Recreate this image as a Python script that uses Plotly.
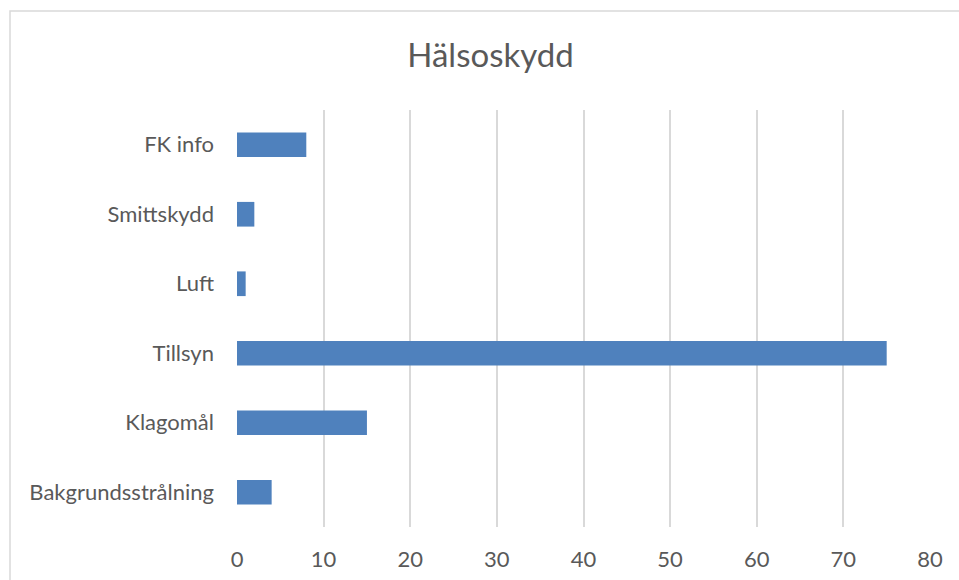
import plotly.graph_objects as go

categories = ["Bakgrundsstrålning", "Klagomål", "Tillsyn", "Luft", "Smittskydd", "FK info"]
values = [4, 15, 75, 1, 2, 8]
x_ticks = [0, 10, 20, 30, 40, 50, 60, 70, 80]

W, H = 959, 580
L, R, T, B = 237, 29, 110, 53
pw, ph = W - L - R, H - T - B

fig = go.Figure(go.Bar(
    x=values, y=categories, orientation="h",
    marker=dict(color="#4F81BD", line=dict(width=0)),
))

fig.update_layout(
    width=W, height=H,
    margin=dict(l=L, r=R, t=T, b=B, autoexpand=False),
    paper_bgcolor="white", plot_bgcolor="white",
    bargap=0.645,
    showlegend=False,
    font=dict(family="Lato, Open Sans, sans-serif", color="#595959"),
    title=dict(text="Hälsoskydd", x=490.5 / W, xanchor="center",
               y=1 - 55 / H, yanchor="middle", xref="container", yref="container",
               font=dict(size=33, color="#595959")),
    xaxis=dict(range=[0, 80], tickvals=x_ticks, showgrid=True, gridcolor="#D9D9D9",
               gridwidth=2, zeroline=False, showline=False, ticks="",
               tickfont=dict(size=22, color="#595959"), ticklabelstandoff=17,
               fixedrange=True),
    yaxis=dict(categoryorder="array", categoryarray=categories, showgrid=False,
               zeroline=False, showline=False, ticks="",
               tickfont=dict(size=22, color="#595959"), ticklabelstandoff=22,
               fixedrange=True),
    shapes=[dict(type="rect", xref="paper", yref="paper",
                 x0=(10 - L) / pw, x1=(W + 20 - L) / pw,
                 y0=-(H + 20 - (T + ph)) / ph, y1=((T + ph) - 11) / ph,
                 line=dict(color="#D9D9D9", width=1.5), fillcolor="rgba(0,0,0,0)",
                 layer="below")],
)

fig.write_html("out.html", config={"displayModeBar": False},
               post_script="document.body.style.margin='0';document.body.style.overflow='hidden';")
